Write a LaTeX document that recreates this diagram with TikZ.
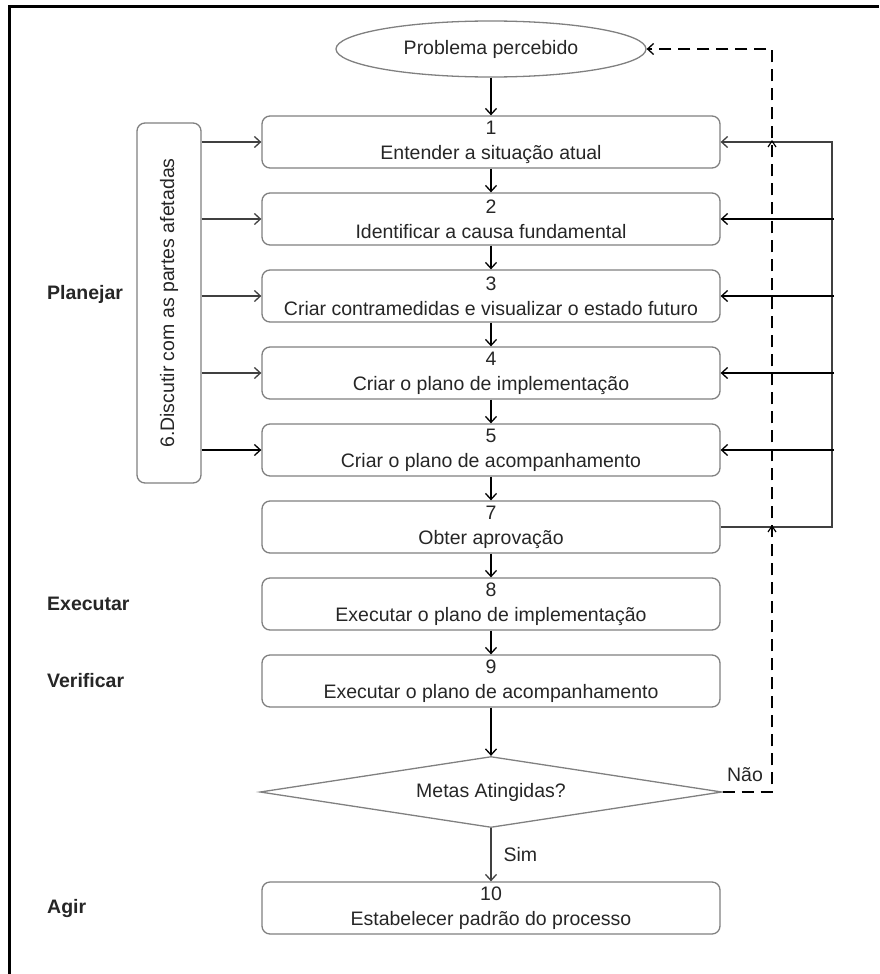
\documentclass[tikz,border=0pt]{standalone}
\usepackage{fontspec}
\setmainfont{Liberation Sans}
\usetikzlibrary{arrows.meta,shapes.geometric,calc}
\definecolor{boxgray}{HTML}{808080}
\definecolor{txt}{HTML}{262626}
\begin{document}
\begin{tikzpicture}[x=1pt,y=-1pt,
  every node/.style={font=\fontsize{19.5}{25}\selectfont, text=txt},
  stepbox/.style={draw=boxgray, line width=1.3pt, rounded corners=8pt, minimum width=458pt, minimum height=52pt, align=center, inner sep=0pt},
  tip/.style={-{Straight Barb[length=6pt,width=11pt,line width=1.3pt]}},
  flow/.style={tip, line width=1.8pt, draw=black},
  thinflow/.style={tip, line width=1.3pt, draw=black!75},
  lbl/.style={font=\fontsize{19.5}{25}\selectfont\bfseries, anchor=west, text=txt, inner sep=0pt}]
\useasboundingbox (0,0) rectangle (879,974);
% frame
\draw[line width=3pt] (9.5,974) -- (9.5,6.5) -- (879,6.5);
% nodes
\node[ellipse, draw=boxgray, line width=1.3pt, minimum width=310pt, minimum height=56pt, inner sep=0pt] (prob) at (491,49) {Problema percebido};
\node[stepbox] (b1) at (491,142) {1\\Entender a situação atual};
\node[stepbox] (b2) at (491,219) {2\\Identificar a causa fundamental};
\node[stepbox] (b3) at (491,296) {3\\Criar contramedidas e visualizar o estado futuro};
\node[stepbox] (b4) at (491,373) {4\\Criar o plano de implementação};
\node[stepbox] (b5) at (491,450) {5\\Criar o plano de acompanhamento};
\node[stepbox] (b7) at (491,527) {7\\Obter aprovação};
\node[stepbox] (b8) at (491,604) {8\\Executar o plano de implementação};
\node[stepbox] (b9) at (491,681) {9\\Executar o plano de acompanhamento};
\node[diamond, draw=boxgray, line width=1.3pt, shape aspect=6.5, minimum width=462pt, minimum height=71pt, inner sep=0pt] (meta) at (491,792) {Metas Atingidas?};
\node[stepbox] (b10) at (491,908) {10\\Estabelecer padrão do processo};
\node[rotate=90, draw=boxgray, line width=1.3pt, rounded corners=8pt, minimum width=360pt, minimum height=64pt, inner sep=0pt] (b6) at (169,303) {6.Discutir com as partes afetadas};
% phase labels
\node[lbl] (plan) at (47,294) {Planejar};
\node[lbl] (exec) at (47,604) {Executar};
\node[lbl] (verif) at (47,681) {Verificar};
\node[lbl] (agir) at (47,908) {Agir};
% helper coordinates
\coordinate (lx) at (832,0);
\coordinate (rx) at (834,0);
\coordinate (dx) at (772,0);
% main flow
\draw[flow] (prob) -- (b1);
\draw[flow] (b1) -- (b2);
\draw[flow] (b2) -- (b3);
\draw[flow] (b3) -- (b4);
\draw[flow] (b4) -- (b5);
\draw[flow] (b5) -- (b7);
\draw[flow] (b7) -- (b8);
\draw[flow] (b8) -- (b9);
\draw[flow, line width=2.2pt] (b9) -- (meta);
\draw[thinflow] (meta) -- node[right=12pt, inner sep=0pt] (sim) {Sim} (b10);
% left arrows from 6
\foreach \b in {b1,b2,b3,b4} \draw[thinflow] (\b.west -| b6.south) -- (\b.west);
\draw[flow] (b5.west -| b6.south) -- (b5.west);
% right loop
\draw[thinflow] (b7.east) -- (b7.east -| lx) -- (b1.east -| lx) -- (b1.east);
\foreach \b in {b2,b3,b4,b5} \draw[flow] (\b.east -| rx) -- (\b.east);
% dashed feedback
\draw[flow, dash pattern=on 12pt off 7pt] (meta.east) -- (meta.east -| dx) -- (prob.east -| dx) -- (prob.east);
\node (nao) at (745,775) {Não};
% small carets at crossings
\draw[line width=1.2pt] ($(b1.east -| dx)+(-4,5)$) -- ++(4,-6) -- ++(4,6);
\draw[line width=1.2pt] ($(b7.east -| dx)+(-4,5)$) -- ++(4,-6) -- ++(4,6);
\end{tikzpicture}
\end{document}
